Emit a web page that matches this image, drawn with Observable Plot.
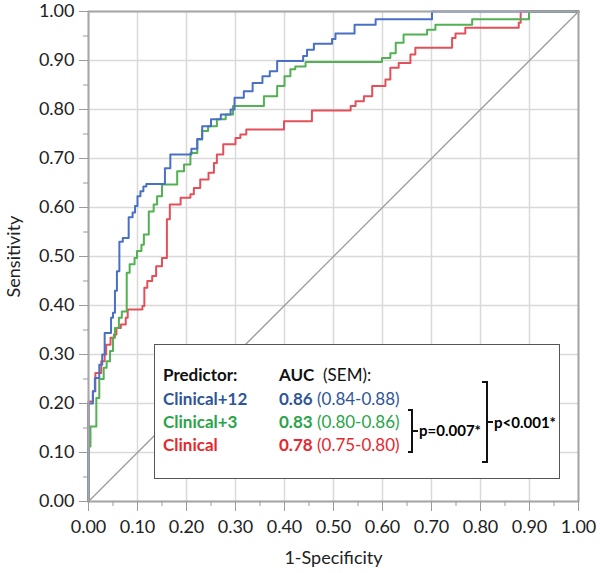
<!DOCTYPE html>
<html><head><meta charset="utf-8">
<script src="https://cdn.jsdelivr.net/npm/d3@7"></script>
<script src="https://cdn.jsdelivr.net/npm/@observablehq/plot@0.6"></script>
<style>
body{margin:0;background:#fff;font-family:Lato,"Open Sans",sans-serif}
#wrap{position:relative;width:600px;height:573px;overflow:hidden}
#legend{position:absolute;left:154px;top:344px;width:406px;height:135px;border:1.5px solid #555;background:#fff;box-sizing:border-box;font-size:17px}
#legend .t{position:absolute;height:20px;line-height:20px;white-space:nowrap}
#legend .b{font-weight:bold}
.br{position:absolute;border:2px solid #111;border-left:none;box-sizing:border-box}
.mt{position:absolute;height:2px;background:#111}
</style></head>
<body><div id="wrap"></div>
<script>
// ROC step points: [1-specificity where the rise happens, sensitivity reached]
const clinical12 = [[0,0],[0,0.20],[0.009,0.225],[0.013,0.252],[0.022,0.279],[0.028,0.300],[0.033,0.344],[0.046,0.375],[0.050,0.385],[0.054,0.430],[0.058,0.470],[0.063,0.530],[0.070,0.538],[0.082,0.580],[0.090,0.590],[0.095,0.603],[0.100,0.623],[0.106,0.633],[0.112,0.643],[0.118,0.648],[0.156,0.680],[0.167,0.708],[0.210,0.720],[0.222,0.740],[0.232,0.766],[0.250,0.780],[0.270,0.790],[0.290,0.800],[0.298,0.824],[0.317,0.837],[0.335,0.854],[0.355,0.868],[0.370,0.878],[0.385,0.899],[0.438,0.909],[0.446,0.922],[0.460,0.934],[0.497,0.944],[0.504,0.955],[0.543,0.973],[0.586,0.984],[0.701,1.0],[1,1]];
const clinical3 = [[0,0],[0,0.112],[0.004,0.153],[0.016,0.211],[0.022,0.250],[0.031,0.273],[0.037,0.286],[0.044,0.307],[0.050,0.334],[0.054,0.354],[0.062,0.375],[0.068,0.388],[0.078,0.467],[0.084,0.484],[0.094,0.497],[0.099,0.511],[0.108,0.524],[0.113,0.545],[0.123,0.592],[0.133,0.606],[0.140,0.623],[0.150,0.647],[0.181,0.674],[0.195,0.688],[0.208,0.711],[0.222,0.739],[0.232,0.756],[0.244,0.766],[0.262,0.780],[0.280,0.790],[0.295,0.807],[0.358,0.827],[0.385,0.848],[0.400,0.868],[0.412,0.882],[0.422,0.888],[0.443,0.897],[0.599,0.905],[0.616,0.915],[0.627,0.936],[0.643,0.953],[0.691,0.963],[0.708,0.973],[0.783,0.984],[0.899,1.0],[1,1]];
const clinical = [[0,0],[0,0.204],[0.009,0.225],[0.014,0.262],[0.026,0.286],[0.033,0.300],[0.036,0.320],[0.045,0.334],[0.052,0.341],[0.057,0.354],[0.066,0.361],[0.076,0.375],[0.080,0.392],[0.110,0.399],[0.114,0.436],[0.120,0.450],[0.130,0.460],[0.138,0.480],[0.150,0.497],[0.160,0.576],[0.166,0.606],[0.188,0.620],[0.208,0.627],[0.215,0.640],[0.228,0.657],[0.245,0.671],[0.256,0.691],[0.262,0.708],[0.275,0.729],[0.300,0.742],[0.310,0.749],[0.322,0.759],[0.399,0.776],[0.456,0.798],[0.535,0.807],[0.545,0.817],[0.562,0.827],[0.579,0.848],[0.606,0.861],[0.616,0.885],[0.633,0.895],[0.657,0.912],[0.667,0.926],[0.742,0.946],[0.749,0.955],[0.769,0.967],[0.878,0.977],[0.882,1.0],[1,1]];
const diagonal = [0, 1];
const majorTicks = [0,0.1,0.2,0.3,0.4,0.5,0.6,0.7,0.8,0.9,1.0];
const minorTicks = [0.05,0.15,0.25,0.35,0.45,0.55,0.65,0.75,0.85,0.95];
const predictors = ["Clinical+12","Clinical+3","Clinical"];
const aucValues = ["0.86","0.83","0.78"];
const aucRanges = ["(0.84-0.88)","(0.80-0.86)","(0.75-0.80)"];
const pValues = ["p=0.007*","p<0.001*"];
const lineColors = ["#4a70c6","#52b152","#e4505a"];
const textColors = ["#2f5597","#2aa448","#e8262d"];

const seriesData = [clinical, clinical3, clinical12];
const seriesNames = ["Clinical","Clinical+3","Clinical+12"];
const rows = seriesData.flatMap((pts, i) => pts.map(([x, y]) => ({x, y, name: seriesNames[i]})));

const chart = Plot.plot({
  width: 600, height: 573,
  marginLeft: 88, marginRight: 22, marginTop: 11, marginBottom: 72,
  x: {domain: [0, 1]},
  y: {domain: [0, 1]},
  color: {domain: predictors, range: lineColors},
  style: {fontFamily: "Lato, sans-serif", fontSize: "18px", color: "#222", background: "#fff", overflow: "visible"},
  marks: [
    Plot.gridX(majorTicks, {stroke: "#d9d9d9", strokeOpacity: 1, strokeWidth: 1.5}),
    Plot.gridY(majorTicks, {stroke: "#d9d9d9", strokeOpacity: 1, strokeWidth: 1.5}),
    Plot.line(diagonal, {x: d => d, y: d => d, stroke: "#9a9a9a", strokeWidth: 1.3}),
    Plot.line(rows, {x: "x", y: "y", z: "name", stroke: "name", curve: "step-after", strokeWidth: 2}),
    Plot.frame({stroke: "#a6a6a6", strokeWidth: 2}),
    Plot.axisX(minorTicks, {tickSize: 5, tickFormat: () => "", stroke: "#9a9a9a", label: null}),
    Plot.axisY(minorTicks, {tickSize: 5, tickFormat: () => "", stroke: "#9a9a9a", label: null}),
    Plot.axisX(majorTicks, {tickSize: 10, tickPadding: 9, tickFormat: ".2f", stroke: "#9a9a9a", label: "1-Specificity", labelArrow: "none", labelAnchor: "center", labelOffset: 62}),
    Plot.axisY(majorTicks, {tickSize: 9, tickPadding: 5, tickFormat: ".2f", stroke: "#9a9a9a", label: "Sensitivity", labelArrow: "none", labelAnchor: "center", labelOffset: 81})
  ]
});
const wrap = document.getElementById("wrap");
wrap.appendChild(chart);

// legend box
const lg = document.createElement("div");
lg.id = "legend";
wrap.appendChild(lg);
function txt(html, left, cy, cls, color) {
  const s = document.createElement("div");
  s.className = "t " + (cls || "");
  s.style.left = left + "px";
  s.style.top = (cy - 10) + "px";
  if (color) s.style.color = color;
  s.innerHTML = html;
  lg.appendChild(s);
}
txt("Predictor:", 8, 30, "b", "#111");
txt("<b>AUC</b>&nbsp; (SEM):", 124, 30, "", "#111");
predictors.forEach((p, i) => {
  const cy = 54 + i * 23;
  txt(p, 8, cy, "b", textColors[i]);
  txt("<b>" + aucValues[i] + "</b> " + aucRanges[i], 124, cy, "", textColors[i]);
});
function bracket(left, top, w, h, tickLen) {
  const b = document.createElement("div");
  b.className = "br";
  Object.assign(b.style, {left: left + "px", top: top + "px", width: w + "px", height: h + "px"});
  lg.appendChild(b);
  const m = document.createElement("div");
  m.className = "mt";
  Object.assign(m.style, {left: (left + w - 1) + "px", top: (top + h / 2 - 1) + "px", width: tickLen + "px"});
  lg.appendChild(m);
}
bracket(253, 64, 5, 44, 6);
bracket(327, 36, 6, 82, 6);
function ptxt(t, left, top) {
  const p = document.createElement("div");
  p.className = "t b"; p.style.fontSize = "15px";
  p.style.left = left + "px"; p.style.top = top + "px"; p.textContent = t;
  lg.appendChild(p);
}
ptxt(pValues[0], 264, 75);
ptxt(pValues[1], 339, 67);
</script></body></html>
